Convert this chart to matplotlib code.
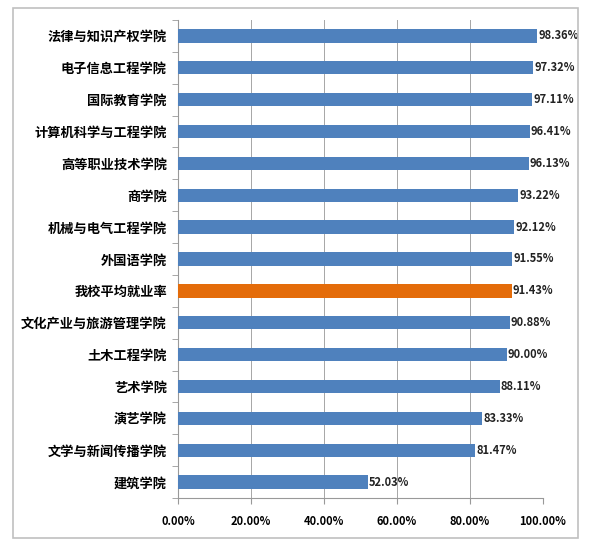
import matplotlib.pyplot as plt
from matplotlib.patches import Rectangle
from matplotlib.ticker import FuncFormatter, MultipleLocator

plt.rcParams['font.family'] = ['Noto Sans CJK SC', 'DejaVu Sans']

colleges = ['法律与知识产权学院', '电子信息工程学院', '国际教育学院', '计算机科学与工程学院',
            '高等职业技术学院', '商学院', '机械与电气工程学院', '外国语学院',
            '我校平均就业率', '文化产业与旅游管理学院', '土木工程学院', '艺术学院',
            '演艺学院', '文学与新闻传播学院', '建筑学院']
rates = [98.36, 97.32, 97.11, 96.41, 96.13, 93.22, 92.12, 91.55,
         91.43, 90.88, 90.00, 88.11, 83.33, 81.47, 52.03]
highlight = '我校平均就业率'

fig = plt.figure(figsize=(5.92, 5.51), dpi=100)
ax = fig.add_axes([178 / 592, 1 - 498 / 551, 365 / 592, 478 / 551])

colors = ['#E46C0A' if c == highlight else '#4F81BD' for c in colleges]
pos = list(range(len(colleges)))[::-1]
ax.barh(pos, rates, height=0.42, color=colors, zorder=3)

for y, v in zip(pos, rates):
    ax.text(v + 0.3, y, f'{v:.2f}%', va='center', ha='left', fontsize=8,
            fontweight='bold', color='#222222', zorder=4)

ax.set_xlim(0, 100)
ax.set_ylim(-0.5, len(colleges) - 0.5)
ax.xaxis.set_major_locator(MultipleLocator(20))
ax.xaxis.set_major_formatter(FuncFormatter(lambda v, p: f'{v:.2f}%'))
ax.set_yticks(pos)
ax.set_yticklabels(colleges, fontsize=9.5, fontweight='bold')
ax.set_yticks([p + 0.5 for p in range(-1, len(colleges))], minor=True)
ax.tick_params(axis='y', which='major', length=0, pad=8)
ax.tick_params(axis='y', which='minor', length=4, color='#999999')
ax.tick_params(axis='x', length=4, color='#999999', labelsize=8, pad=8)
for lab in ax.get_xticklabels():
    lab.set_fontweight('bold')

ax.grid(axis='x', color='#A6A6A6', linewidth=0.7, zorder=0)
for s in ['top', 'right']:
    ax.spines[s].set_visible(False)
for s in ['left', 'bottom']:
    ax.spines[s].set_color('#999999')
    ax.spines[s].set_linewidth(0.8)

fig.patches.append(Rectangle((13 / 592, 1 - 538 / 551), 565 / 592, 530 / 551,
                             transform=fig.transFigure, fill=False,
                             edgecolor='#C0C0C0', linewidth=1.2))

fig.savefig('out.png', dpi=100)
